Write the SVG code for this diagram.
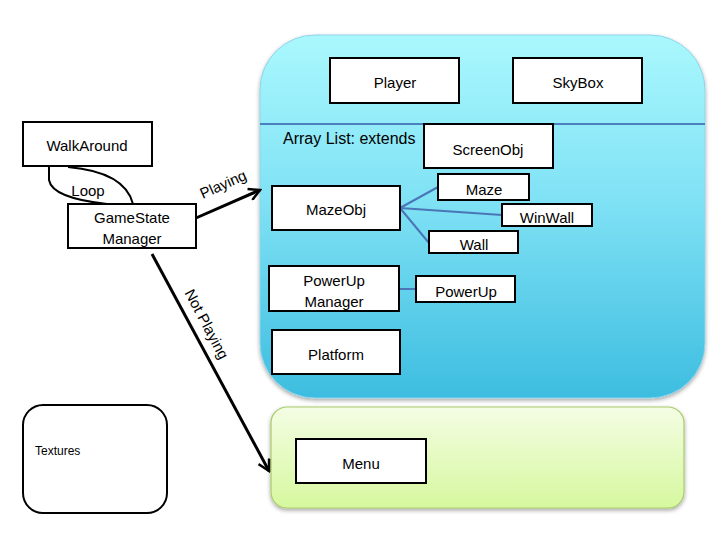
<svg xmlns="http://www.w3.org/2000/svg" width="720" height="540" viewBox="0 0 720 540">
<defs>
<linearGradient id="blue" x1="0" y1="0" x2="0" y2="1">
<stop offset="0" stop-color="#aaf8fd"/>
<stop offset="0.45" stop-color="#80e2f5"/>
<stop offset="1" stop-color="#3dbde0"/>
</linearGradient>
<linearGradient id="green" x1="0" y1="0" x2="0" y2="1">
<stop offset="0" stop-color="#f4fde4"/>
<stop offset="1" stop-color="#d6f89e"/>
</linearGradient>
<marker id="arr" markerWidth="14" markerHeight="14" refX="12" refY="7" orient="auto" markerUnits="userSpaceOnUse">
<path d="M1,1 L12,7 L1,13" fill="none" stroke="#000" stroke-width="2.5"/>
</marker>
<filter id="sh" x="-5%" y="-5%" width="110%" height="115%">
<feGaussianBlur in="SourceAlpha" stdDeviation="2"/>
<feOffset dx="0" dy="2"/>
<feComponentTransfer><feFuncA type="linear" slope="0.35"/></feComponentTransfer>
<feMerge><feMergeNode/><feMergeNode in="SourceGraphic"/></feMerge>
</filter>
</defs>
<style>
.box{fill:#fff;stroke:#000;stroke-width:2}
.t{font-family:"Liberation Sans",Arial,sans-serif;font-size:15px;fill:#000;text-anchor:middle;dominant-baseline:central}
.lk{fill:none;stroke:#4a76b8;stroke-width:2}
.ar{fill:none;stroke:#000;stroke-width:3}
</style>
<g id="containers">
<rect id="world" x="260" y="35" width="445" height="363" rx="55" fill="url(#blue)" stroke="#8ed4ea" stroke-width="1" filter="url(#sh)"/>
<line x1="260" y1="124" x2="705" y2="124" stroke="#4a80bd" stroke-width="2"/>
<rect id="menuArea" x="271" y="407" width="413" height="101" rx="16" fill="url(#green)" stroke="#a7cb6a" stroke-width="1.2" filter="url(#sh)"/>
</g>
<g id="connectors">
<path d="M49,167 L49,180 Q52,198 107,204" fill="none" stroke="#000" stroke-width="2"/>
<path d="M68,167 Q125,172 133,204" fill="none" stroke="#000" stroke-width="2"/>
<text class="t" x="88" y="190">Loop</text>
<line class="ar" x1="196" y1="218" x2="260" y2="190" marker-end="url(#arr)"/>
<text class="t" transform="translate(223,184) rotate(-24)">Playing</text>
<line class="ar" x1="152" y1="254" x2="269" y2="471" marker-end="url(#arr)"/>
<text class="t" transform="translate(207,324) rotate(62)">Not Playing</text>
<line class="lk" x1="400" y1="208" x2="438" y2="187"/>
<line class="lk" x1="400" y1="208" x2="502" y2="215"/>
<line class="lk" x1="400" y1="208" x2="429" y2="243"/>
<line class="lk" x1="399" y1="289" x2="416" y2="289"/>
<text class="t" x="283" y="138" style="text-anchor:start;font-size:16px">Array List: extends</text>
</g>
<g id="walkaround"><rect class="box" x="23" y="122" width="129" height="44"/><text class="t" x="87" y="145">WalkAround</text></g>
<g id="gamestate"><rect class="box" x="68" y="204" width="128" height="44"/><text class="t" x="132" y="217">GameState</text><text class="t" x="132" y="238">Manager</text></g>
<g id="player"><rect class="box" x="330" y="58" width="129" height="45"/><text class="t" x="395" y="82">Player</text></g>
<g id="skybox"><rect class="box" x="513" y="58" width="129" height="45"/><text class="t" x="578" y="82">SkyBox</text></g>
<g id="screenobj"><rect class="box" x="424" y="124" width="129" height="44"/><text class="t" x="488" y="149">ScreenObj</text></g>
<g id="mazeobj"><rect class="box" x="272" y="186" width="128" height="44"/><text class="t" x="336" y="209">MazeObj</text></g>
<g id="maze"><rect class="box" x="438" y="174" width="91" height="26"/><text class="t" x="484" y="189">Maze</text></g>
<g id="winwall"><rect class="box" x="502" y="204" width="90" height="22"/><text class="t" x="547" y="217">WinWall</text></g>
<g id="wall"><rect class="box" x="429" y="231" width="89" height="22"/><text class="t" x="474" y="244">Wall</text></g>
<g id="powerupmanager"><rect class="box" x="269" y="266" width="130" height="45"/><text class="t" x="334" y="280">PowerUp</text><text class="t" x="334" y="301">Manager</text></g>
<g id="powerup"><rect class="box" x="416" y="276" width="99" height="26"/><text class="t" x="466" y="291">PowerUp</text></g>
<g id="platform"><rect class="box" x="272" y="330" width="128" height="44"/><text class="t" x="336" y="354">Platform</text></g>
<g id="menu"><rect class="box" x="296" y="439" width="130" height="44"/><text class="t" x="361" y="463">Menu</text></g>
<g id="textures"><rect x="23" y="405" width="144" height="108" rx="20" fill="#fff" stroke="#000" stroke-width="2"/><text x="35" y="451" font-family="'Liberation Sans',Arial,sans-serif" font-size="12" dominant-baseline="central">Textures</text></g>
</svg>
